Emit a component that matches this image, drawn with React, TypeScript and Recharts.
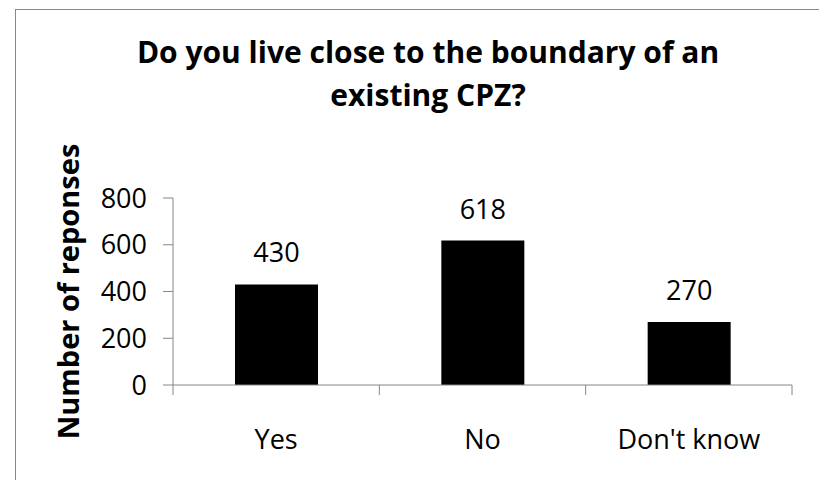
import { BarChart, Bar, XAxis, YAxis, LabelList } from 'recharts';

const categories = ['Yes', 'No', "Don't know"];
const responses = [430, 618, 270];
const yTicks = [0, 200, 400, 600, 800];

const data = categories.map((name, i) => ({ name, responses: responses[i] }));

const FONT = '"Open Sans", sans-serif';
const AXIS = '#868686';

const CategoryTick = (props: any) => {
    const { x, y, payload, index, visibleTicksCount } = props;
    const half = payload.offset || 0;
    return <g>
        <line x1={x - half} x2={x - half} y1={y} y2={y + 10} stroke={AXIS} />
        {index === visibleTicksCount - 1 &&
            <line x1={x + half} x2={x + half} y1={y} y2={y + 10} stroke={AXIS} />}
        <text x={x} y={y + 64} textAnchor="middle" fontSize={27} fontFamily={FONT} fill="#000">
            {payload.value}
        </text>
    </g>
}

const YTitle = (props: any) => {
    const { viewBox } = props;
    const cy = viewBox.y + viewBox.height / 2;
    return <text x={67} y={cy} transform={`rotate(-90, 67, ${cy})`} textAnchor="middle"
        dominantBaseline="central" fontSize={29} fontWeight="bold" fontFamily={FONT} fill="#000">
        Number of reponses
    </text>
}

const App = () => {
    return <div style={{ position: 'absolute', left: 0, top: 0, width: 819, height: 480, background: '#fff', overflow: 'hidden' }}>
        <div style={{ position: 'absolute', left: 15, top: 9, width: 900, height: 600, borderLeft: '1px solid #888', borderTop: '1px solid #888' }} />
        <div style={{ position: 'absolute', left: 0, top: 30, width: 856, textAlign: 'center', fontFamily: FONT, fontWeight: 'bold', fontSize: 30, lineHeight: '43px', color: '#000' }}>
            Do you live close to the boundary of an<br />existing CPZ?
        </div>
        <div style={{ position: 'absolute', left: 0, top: 0 }}>
            <BarChart width={819} height={480} data={data}
                margin={{ top: 198, right: 27, left: 0, bottom: 0 }} barCategoryGap="30%">
                <XAxis dataKey="name" height={95} stroke={AXIS} tickLine={false} tickSize={0} tickMargin={0}
                    tick={<CategoryTick />} interval={0} />
                <YAxis width={173} domain={[0, 800]} ticks={yTicks} stroke={AXIS} tickSize={10} tickMargin={16}
                    tick={{ fontSize: 27, fontFamily: FONT, fill: '#000' }} label={<YTitle />} />
                <Bar dataKey="responses" fill="#000" barSize={83} isAnimationActive={false}>
                    <LabelList dataKey="responses" position="top" offset={22} fontSize={27} fontFamily={FONT} fill="#000" />
                </Bar>
            </BarChart>
        </div>
    </div>
}

export default App
